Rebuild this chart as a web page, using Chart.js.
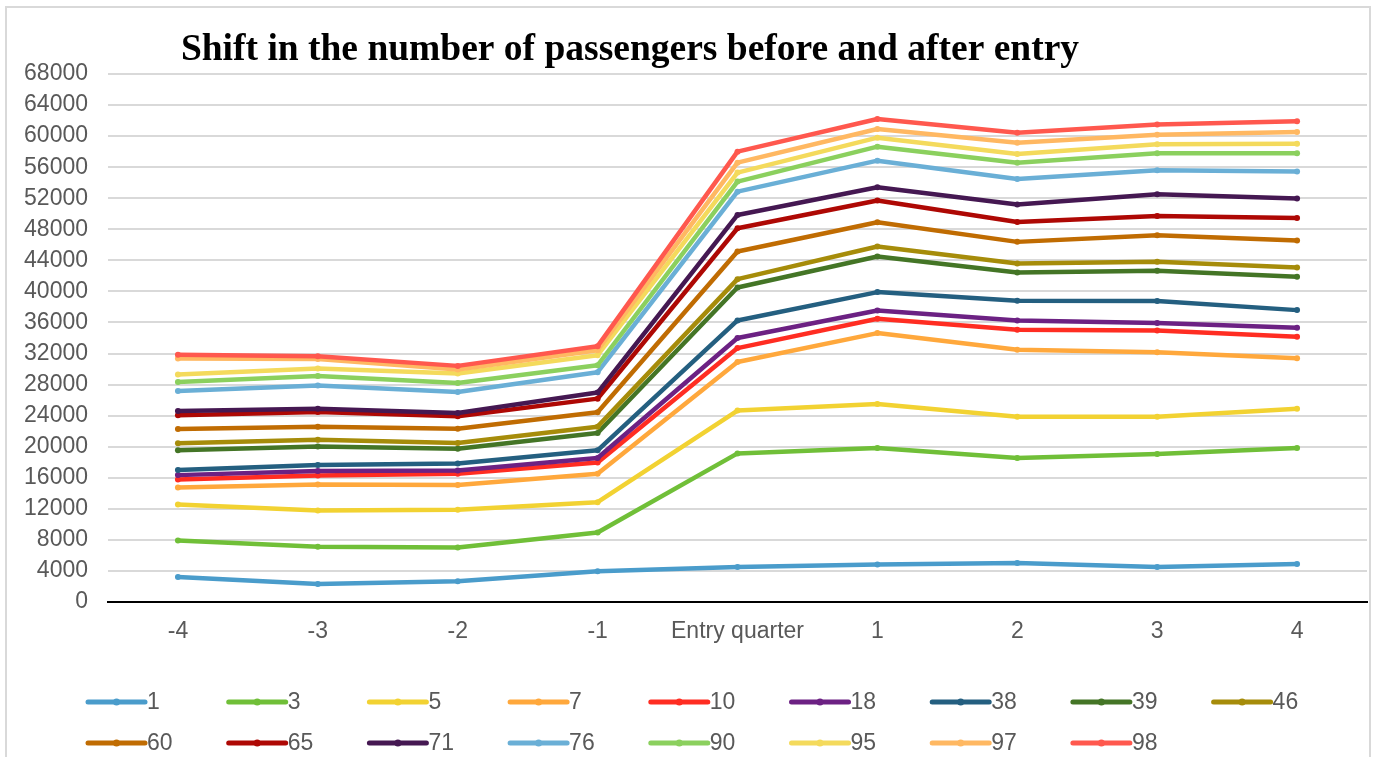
<!DOCTYPE html>
<html>
<head>
<meta charset="utf-8">
<script src="https://cdn.jsdelivr.net/npm/chart.js@4.4.1/dist/chart.umd.min.js"></script>
<style>
  html, body { margin: 0; padding: 0; background: #ffffff; }
  #wrap { width: 1382px; height: 757px; }
</style>
</head>
<body>
<div id="wrap"><canvas id="c" width="1382" height="757"></canvas></div>
<script>
// Quarters relative to market entry
const quarters = ['-4', '-3', '-2', '-1', 'Entry quarter', '1', '2', '3', '4'];

// Passenger counts per route group
const g1  = [3230, 2330, 2670, 3960, 4520, 4820, 5030, 4520, 4900];
const g3  = [7910, 7100, 7010, 8950, 19140, 19830, 18540, 19050, 19830];
const g5  = [12560, 11790, 11870, 12860, 24650, 25510, 23870, 23870, 24900];
const g7  = [14750, 15140, 15060, 16520, 30900, 34630, 32490, 32150, 31400];
const g10 = [15780, 16300, 16520, 17980, 32700, 36480, 35060, 34980, 34160];
const g18 = [16340, 16860, 16950, 18540, 33990, 37550, 36260, 35920, 35320];
const g38 = [16990, 17640, 17850, 19530, 36260, 39910, 38790, 38750, 37590];
const g39 = [19530, 20040, 19740, 21770, 40510, 44500, 42430, 42650, 41880];
const g46 = [20430, 20900, 20470, 22580, 41580, 45780, 43590, 43810, 43080];
const g60 = [22280, 22580, 22320, 24430, 45140, 48910, 46380, 47230, 46550];
const g65 = [24040, 24470, 23910, 26190, 48140, 51700, 48950, 49720, 49460];
const g71 = [24600, 24900, 24340, 26970, 49850, 53410, 51180, 52510, 51950];
const g76 = [27180, 27870, 27050, 29590, 52850, 56840, 54480, 55600, 55430];
const g90 = [28340, 29120, 28210, 30490, 54140, 58640, 56580, 57780, 57780];
const g95 = [29290, 30060, 29420, 31790, 55300, 59800, 57700, 58940, 59030];
const g97 = [31350, 31310, 29940, 32430, 56580, 60910, 59160, 60180, 60530];
const g98 = [31830, 31660, 30410, 32950, 58000, 62200, 60440, 61510, 61900];

const seriesNames  = ['1', '3', '5', '7', '10', '18', '38', '39', '46', '60', '65', '71', '76', '90', '95', '97', '98'];
const seriesValues = [g1, g3, g5, g7, g10, g18, g38, g39, g46, g60, g65, g71, g76, g90, g95, g97, g98];
const seriesColors = ['#4a9ccb', '#70bf38', '#f2d232', '#ffa83c', '#ff2d22', '#6c2183', '#245f80',
                      '#447526', '#a68c0a', '#c06c02', '#ae0804', '#451852', '#6aafd6', '#8bd05e',
                      '#f4da5c', '#ffb862', '#ff584e'];

// Y-axis tick step and range
const yMax = 68000;
const yStep = 4000;

const SANS = "'Liberation Sans', Arial, sans-serif";
const TEXT_GREY = '#595959';

const datasets = seriesNames.map((name, i) => ({
  label: name,
  data: seriesValues[i],
  borderColor: seriesColors[i],
  backgroundColor: seriesColors[i],
  borderWidth: 4.5,
  pointRadius: 3,
  pointHoverRadius: 3,
  pointBorderWidth: 0,
  borderJoinStyle: 'round',
  borderCapStyle: 'round',
  tension: 0,
  fill: false,
  order: seriesNames.length - i   // later series sit on top
}));

// Outer frame and white background
const framePlugin = {
  id: 'frame',
  beforeDraw(chart) {
    const ctx = chart.ctx;
    ctx.save();
    ctx.fillStyle = '#ffffff';
    ctx.fillRect(0, 0, chart.width, chart.height);
    ctx.strokeStyle = '#d9d9d9';
    ctx.lineWidth = 2;
    ctx.strokeRect(6, 7, 1364, 790);
    ctx.restore();
  }
};

// Bold serif heading
const headingPlugin = {
  id: 'heading',
  afterDraw(chart) {
    const ctx = chart.ctx;
    ctx.save();
    ctx.font = "bold 37.5px 'Liberation Serif', 'Times New Roman', serif";
    ctx.fillStyle = '#000000';
    ctx.textAlign = 'center';
    ctx.textBaseline = 'alphabetic';
    ctx.fillText('Shift in the number of passengers before and after entry', 630, 60);
    ctx.restore();
  }
};

// Two-row legend on a fixed column grid
const gridLegendPlugin = {
  id: 'gridLegend',
  afterDraw(chart) {
    const ctx = chart.ctx;
    const perRow = 9, colStep = 140.7, x0 = 88, y0 = 702, rowStep = 41, lineLen = 57;
    ctx.save();
    chart.data.datasets.forEach((ds, i) => {
      const row = Math.floor(i / perRow), col = i % perRow;
      const x = x0 + col * colStep, y = y0 + row * rowStep;
      ctx.strokeStyle = ds.borderColor;
      ctx.lineWidth = 5;
      ctx.lineCap = 'round';
      ctx.beginPath();
      ctx.moveTo(x, y);
      ctx.lineTo(x + lineLen, y);
      ctx.stroke();
      ctx.fillStyle = ds.borderColor;
      ctx.beginPath();
      ctx.arc(x + lineLen / 2, y, 3.5, 0, Math.PI * 2);
      ctx.fill();
      ctx.fillStyle = TEXT_GREY;
      ctx.font = '23px ' + SANS;
      ctx.textAlign = 'left';
      ctx.textBaseline = 'middle';
      ctx.fillText(ds.label, x + lineLen + 2, y + 1);
    });
    ctx.restore();
  }
};

new Chart(document.getElementById('c'), {
  type: 'line',
  data: { labels: quarters, datasets },
  options: {
    responsive: false,
    devicePixelRatio: 1,
    animation: false,
    layout: { padding: { top: 74, left: 0, right: 15, bottom: 105 } },
    plugins: {
      legend: { display: false },
      title: { display: false },
      tooltip: { enabled: false }
    },
    scales: {
      x: {
        type: 'category',
        offset: true,
        grid: { display: false, drawTicks: false },
        border: { display: true, color: '#000000', width: 2 },
        ticks: {
          color: TEXT_GREY,
          font: { family: SANS, size: 23 },
          padding: 16,
          maxRotation: 0,
          autoSkip: false
        },
        afterFit(scale) { scale.height = 50; }
      },
      y: {
        min: 0,
        max: yMax,
        grid: { color: '#d9d9d9', lineWidth: 2, drawTicks: false },
        border: { display: false },
        ticks: {
          stepSize: yStep,
          color: TEXT_GREY,
          font: { family: SANS, size: 23 },
          padding: 20,
          callback: (v) => String(v)
        },
        afterFit(scale) { scale.width = 108; }
      }
    }
  },
  plugins: [framePlugin, headingPlugin, gridLegendPlugin]
});
</script>
</body>
</html>
